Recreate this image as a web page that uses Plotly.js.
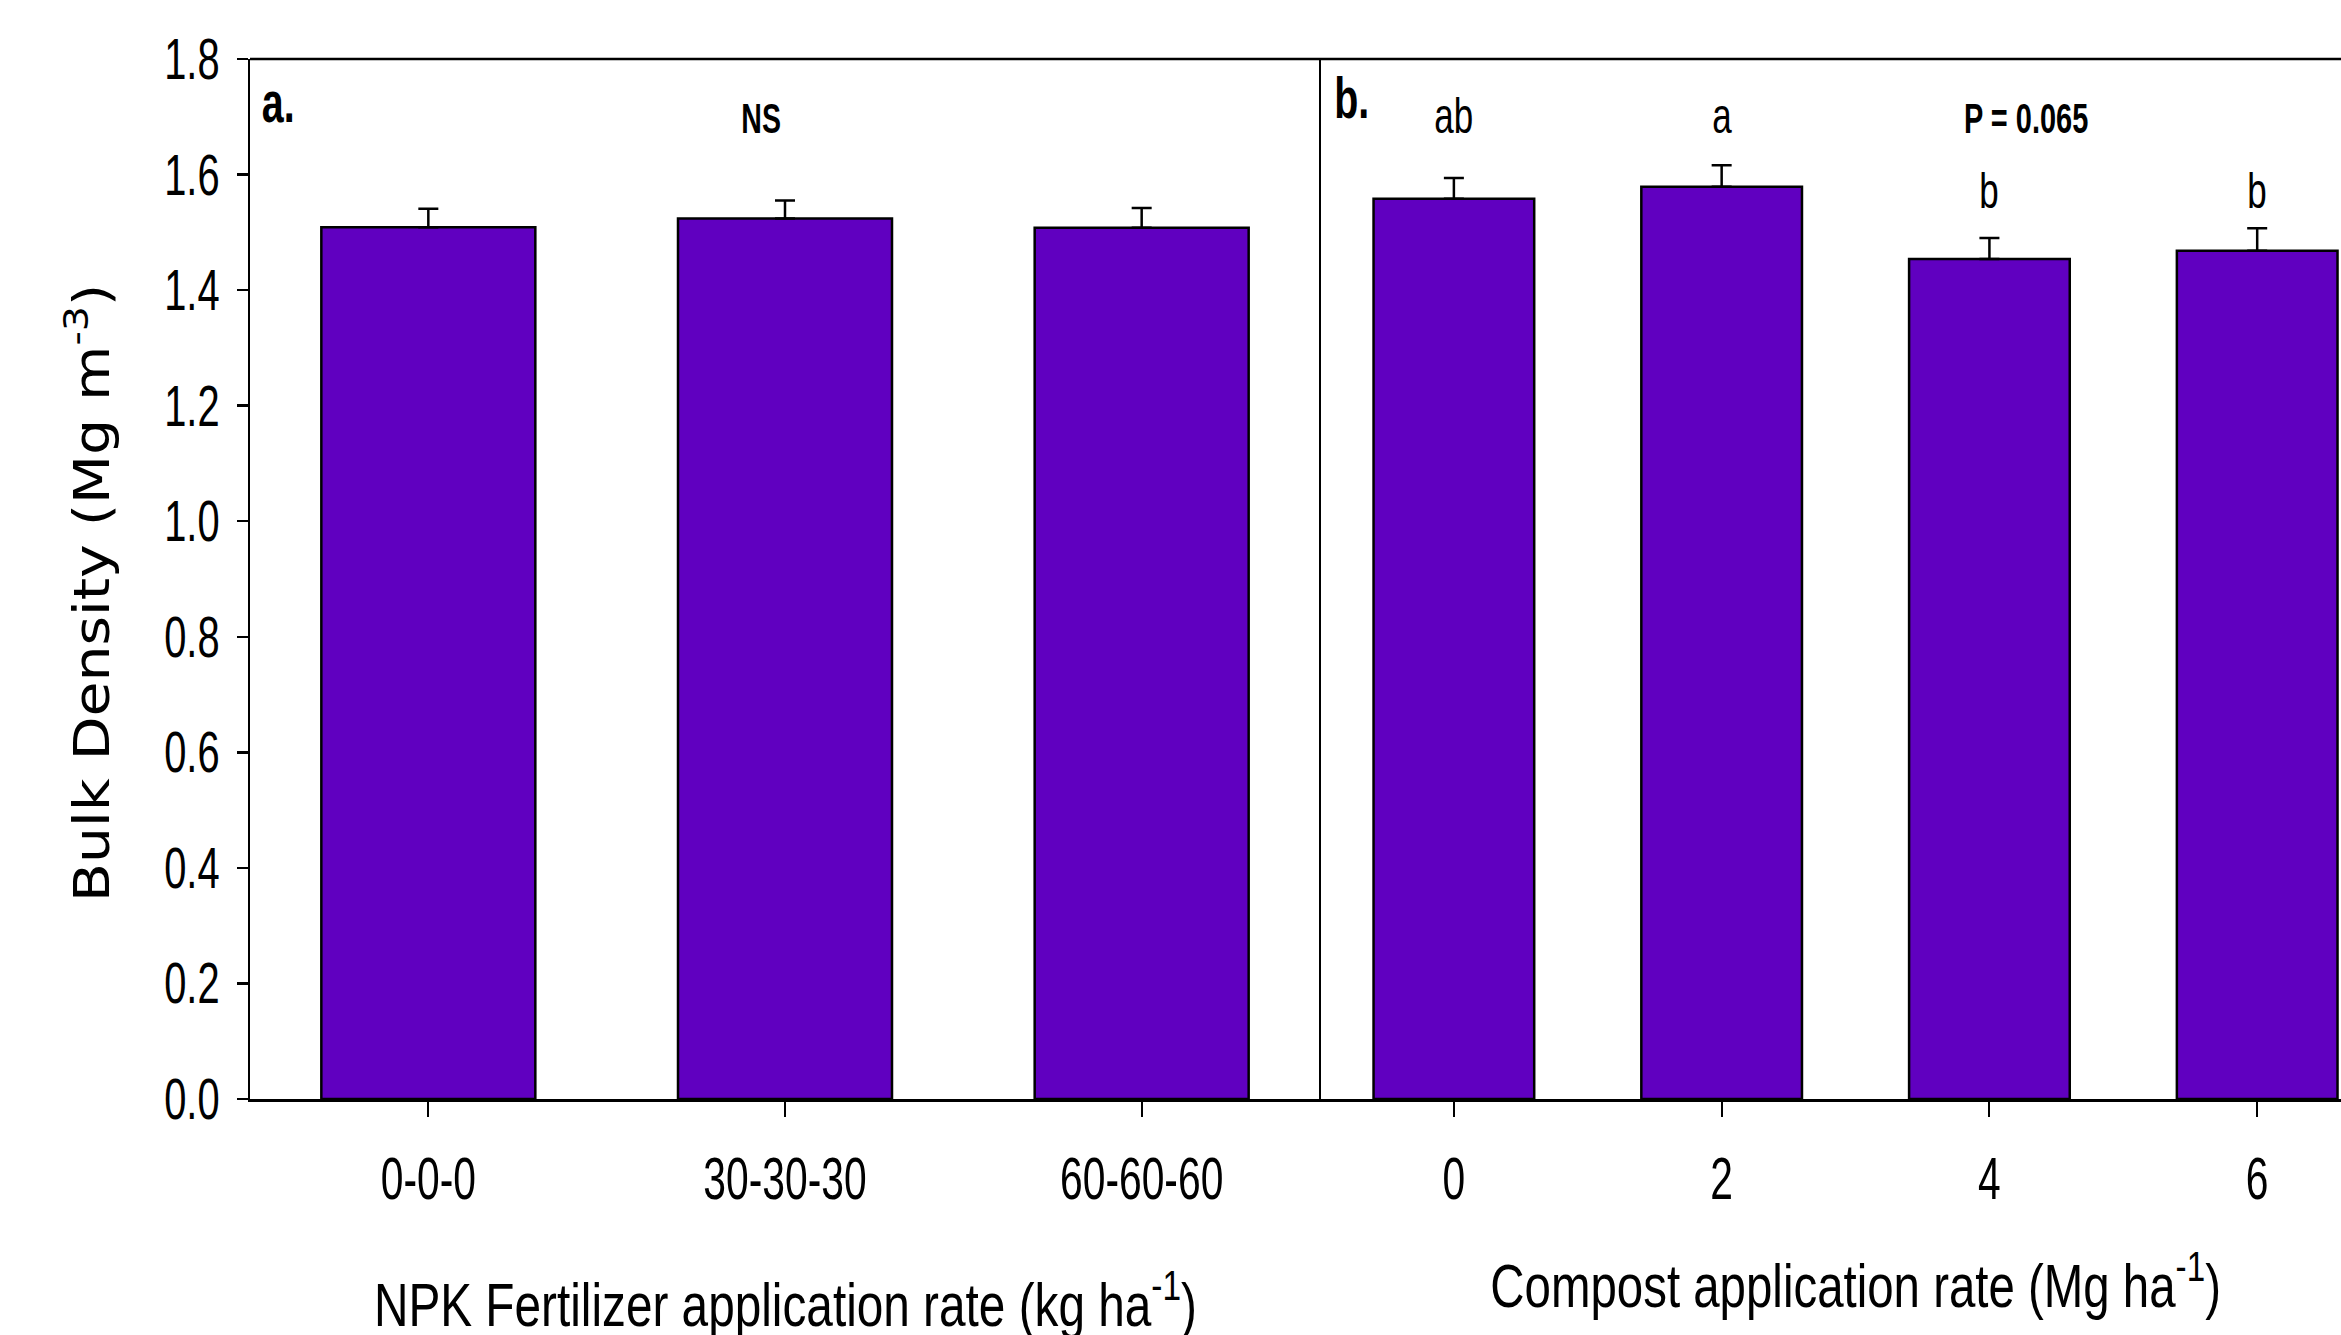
<!DOCTYPE html>
<html>
<head>
<meta charset="utf-8">
<script src="https://cdn.plot.ly/plotly-3.0.1.min.js"></script>
<style>
  html, body { margin: 0; padding: 0; background: #ffffff; }
  #chart { width: 2341px; height: 1335px; }
</style>
</head>
<body>
<div id="chart"></div>
<script>
// ---- data ----
const npkCategories = ["0-0-0", "30-30-30", "60-60-60"];
const npkValues = [1.509, 1.524, 1.508];
const npkErrors = [0.032, 0.031, 0.034];

const compostCategories = ["0", "2", "4", "6"];
const compostValues = [1.558, 1.579, 1.454, 1.468];
const compostErrors = [0.036, 0.037, 0.036, 0.039];
const compostLetters = ["ab", "a", "b", "b"];

const yTickValues = [0, 0.2, 0.4, 0.6, 0.8, 1.0, 1.2, 1.4, 1.6, 1.8];

// ---- style ----
const SANS = '"Liberation Sans", Arial, sans-serif';
const DEJAVU = '"DejaVu Sans", sans-serif';
const BAR = "#6000c0";
const split = (1320 - 250) / 2091;
const X_TICK_SCALE = 0.68, Y_TICK_SCALE = 0.7;

function barTrace(x, y, err, xa) {
  return {
    type: "bar",
    x: x, y: y,
    xaxis: xa, yaxis: "y",
    width: 0.6,
    marker: { color: BAR, line: { color: "#000000", width: 2.5 } },
    error_y: {
      type: "data", symmetric: false,
      array: err, arrayminus: err.map(() => 0),
      color: "#000000", thickness: 2.5, width: 10
    },
    hoverinfo: "skip"
  };
}

const traces = [
  barTrace(npkCategories, npkValues, npkErrors, "x"),
  barTrace(compostCategories, compostValues, compostErrors, "x2")
];

const annotations = [];
const annScale = [];
function addAnn(a, s) { a.showarrow = false; annotations.push(a); annScale.push(s); }

addAnn({ text: "<b>a.</b>", xref: "paper", yref: "paper", x: 0.0134, y: 0.9587, xanchor: "center", yanchor: "middle",
  font: { family: SANS, size: 58, color: "#000" } }, 0.68);
addAnn({ text: "<b>b.</b>", xref: "paper", yref: "paper", x: 0.527, y: 0.9625, xanchor: "center", yanchor: "middle",
  font: { family: SANS, size: 58, color: "#000" } }, 0.68);
addAnn({ text: "<b>NS</b>", xref: "paper", yref: "paper", x: 0.2444, y: 0.9428, xanchor: "center", yanchor: "middle",
  font: { family: SANS, size: 42, color: "#000" } }, 0.68);
addAnn({ text: "<b>P = 0.065</b>", xref: "paper", yref: "paper", x: 0.8494, y: 0.9428, xanchor: "center", yanchor: "middle",
  font: { family: SANS, size: 42, color: "#000" } }, 0.69);
addAnn({ text: "NPK Fertilizer application rate (kg ha<sup>-1</sup>)", xref: "x", yref: "paper", x: 1, y: -0.193,
  xanchor: "center", yanchor: "middle", font: { family: SANS, size: 62, color: "#000" } }, 0.77);
addAnn({ text: "Compost application rate (Mg ha<sup>-1</sup>)", xref: "x2", yref: "paper", x: 1.5, y: -0.1746,
  xanchor: "center", yanchor: "middle", font: { family: SANS, size: 62, color: "#000" } }, 0.765);
addAnn({ text: "Bulk Density (Mg m<sup>-3</sup>)", xref: "paper", yref: "paper", x: -0.077, y: 0.487,
  xanchor: "center", yanchor: "middle", textangle: -90, font: { family: DEJAVU, size: 49, color: "#000" } }, 1.16);

const letterY = [0.9455, 0.9455, 0.8734, 0.8734];
compostLetters.forEach((t, i) => {
  addAnn({ text: t, xref: "x2", yref: "paper", x: i, y: letterY[i], xanchor: "center", yanchor: "middle",
    font: { family: SANS, size: 50, color: "#000" } }, 0.7);
});

const xCommon = {
  showline: true, linecolor: "#000", linewidth: 3,
  ticks: "outside", ticklen: 15, tickwidth: 2, tickcolor: "#000",
  showgrid: false, zeroline: false, fixedrange: true,
  tickfont: { family: SANS, size: 60, color: "#000" },
  ticklabelstandoff: 10
};

const layout = {
  width: 2341, height: 1335,
  margin: { l: 250, r: 0, t: 59, b: 236, pad: 0 },
  paper_bgcolor: "#ffffff", plot_bgcolor: "#ffffff",
  showlegend: false,
  bargap: 0.4,
  xaxis: Object.assign({}, xCommon, { domain: [0, split], type: "category", range: [-0.5, 2.5], anchor: "y" }),
  xaxis2: Object.assign({}, xCommon, { domain: [split, 1], type: "category", range: [-0.5, 3.313], anchor: "y" }),
  yaxis: {
    range: [0, 1.8], tickvals: yTickValues, tickformat: ".1f",
    showline: true, linecolor: "#000", linewidth: 2,
    ticks: "outside", ticklen: 11, tickwidth: 2.5, tickcolor: "#000",
    showgrid: false, zeroline: false, fixedrange: true,
    tickfont: { family: SANS, size: 57, color: "#000" },
    ticklabelstandoff: 6
  },
  shapes: [
    { type: "line", xref: "paper", yref: "paper", x0: 0, x1: 1, y0: 1, y1: 1, line: { color: "#000", width: 2.5 } },
    { type: "line", xref: "paper", yref: "paper", x0: split, x1: split, y0: 0, y1: 1, line: { color: "#000", width: 2 } }
  ],
  annotations: annotations
};

// Narrow the glyphs horizontally (the reference uses a condensed face that is not installed)
function condense(el, s, mode) {
  const bb = el.getBBox();
  const ax = mode === "right" ? bb.x + bb.width : (mode === "left" ? bb.x : bb.x + bb.width / 2);
  const prev = el.getAttribute("transform") || "";
  el.setAttribute("transform", prev + " translate(" + ax + ",0) scale(" + s + ",1) translate(" + (-ax) + ",0)");
}

const gd = document.getElementById("chart");
Plotly.newPlot(gd, traces, layout, { displayModeBar: false, staticPlot: true }).then(() => {
  gd.querySelectorAll(".xtick text, .x2tick text").forEach(t => condense(t, X_TICK_SCALE, "center"));
  gd.querySelectorAll(".ytick text").forEach(t => condense(t, Y_TICK_SCALE, "right"));
  gd.querySelectorAll("g.annotation").forEach(g => {
    const i = +g.getAttribute("data-index");
    const t = g.querySelector("text.annotation-text");
    if (t && annScale[i] !== undefined) condense(t, annScale[i], "center");
  });
});
</script>
</body>
</html>
